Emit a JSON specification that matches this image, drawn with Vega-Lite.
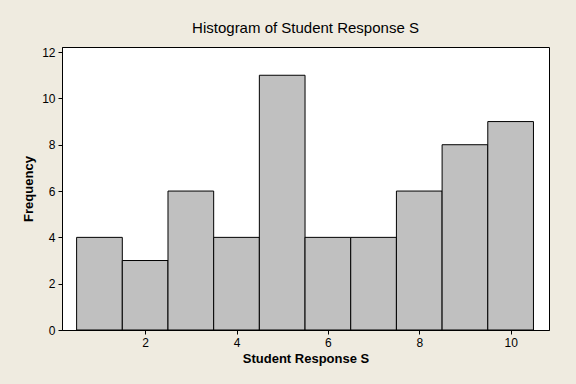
{
  "$schema": "https://vega.github.io/schema/vega-lite/v6.json",
  "autosize": "none",
  "width": 487,
  "height": 283,
  "padding": {"left": 62, "top": 47, "right": 27, "bottom": 54},
  "background": "#EFEBE0",
  "title": {
    "text": "Histogram of Student Response S",
    "font": "Liberation Sans",
    "fontSize": 15,
    "fontWeight": "normal",
    "color": "black",
    "anchor": "middle",
    "frame": "group",
    "offset": 10
  },
  "config": {
    "view": {"stroke": "black", "strokeWidth": 1, "fill": "white"},
    "axis": {
      "labelFont": "Liberation Sans",
      "labelFontSize": 12,
      "labelColor": "black",
      "titleFont": "Liberation Sans",
      "titleFontSize": 13,
      "titleFontWeight": "bold",
      "titleColor": "black",
      "domainColor": "black",
      "tickColor": "black",
      "tickSize": 4,
      "labelPadding": 3,
      "grid": false
    }
  },
  "data": {
    "values": [
      {"start": 0.5, "end": 1.5, "count": 4},
      {"start": 1.5, "end": 2.5, "count": 3},
      {"start": 2.5, "end": 3.5, "count": 6},
      {"start": 3.5, "end": 4.5, "count": 4},
      {"start": 4.5, "end": 5.5, "count": 11},
      {"start": 5.5, "end": 6.5, "count": 4},
      {"start": 6.5, "end": 7.5, "count": 4},
      {"start": 7.5, "end": 8.5, "count": 6},
      {"start": 8.5, "end": 9.5, "count": 8},
      {"start": 9.5, "end": 10.5, "count": 9}
    ]
  },
  "mark": {"type": "bar", "orient": "vertical", "color": "#C0C0C0", "stroke": "black", "strokeWidth": 1},
  "encoding": {
    "x": {
      "field": "start",
      "type": "quantitative",
      "scale": {"domain": [0.18, 10.84], "nice": false, "zero": false, "padding": 0},
      "axis": {"values": [2, 4, 6, 8, 10], "title": "Student Response S", "titlePadding": 4}
    },
    "x2": {"field": "end"},
    "y": {
      "field": "count",
      "type": "quantitative",
      "scale": {"domain": [0, 12.22], "nice": false, "padding": 0},
      "axis": {"values": [0, 2, 4, 6, 8, 10, 12], "title": "Frequency", "titlePadding": 6}
    },
    "y2": {"datum": 0}
  }
}
